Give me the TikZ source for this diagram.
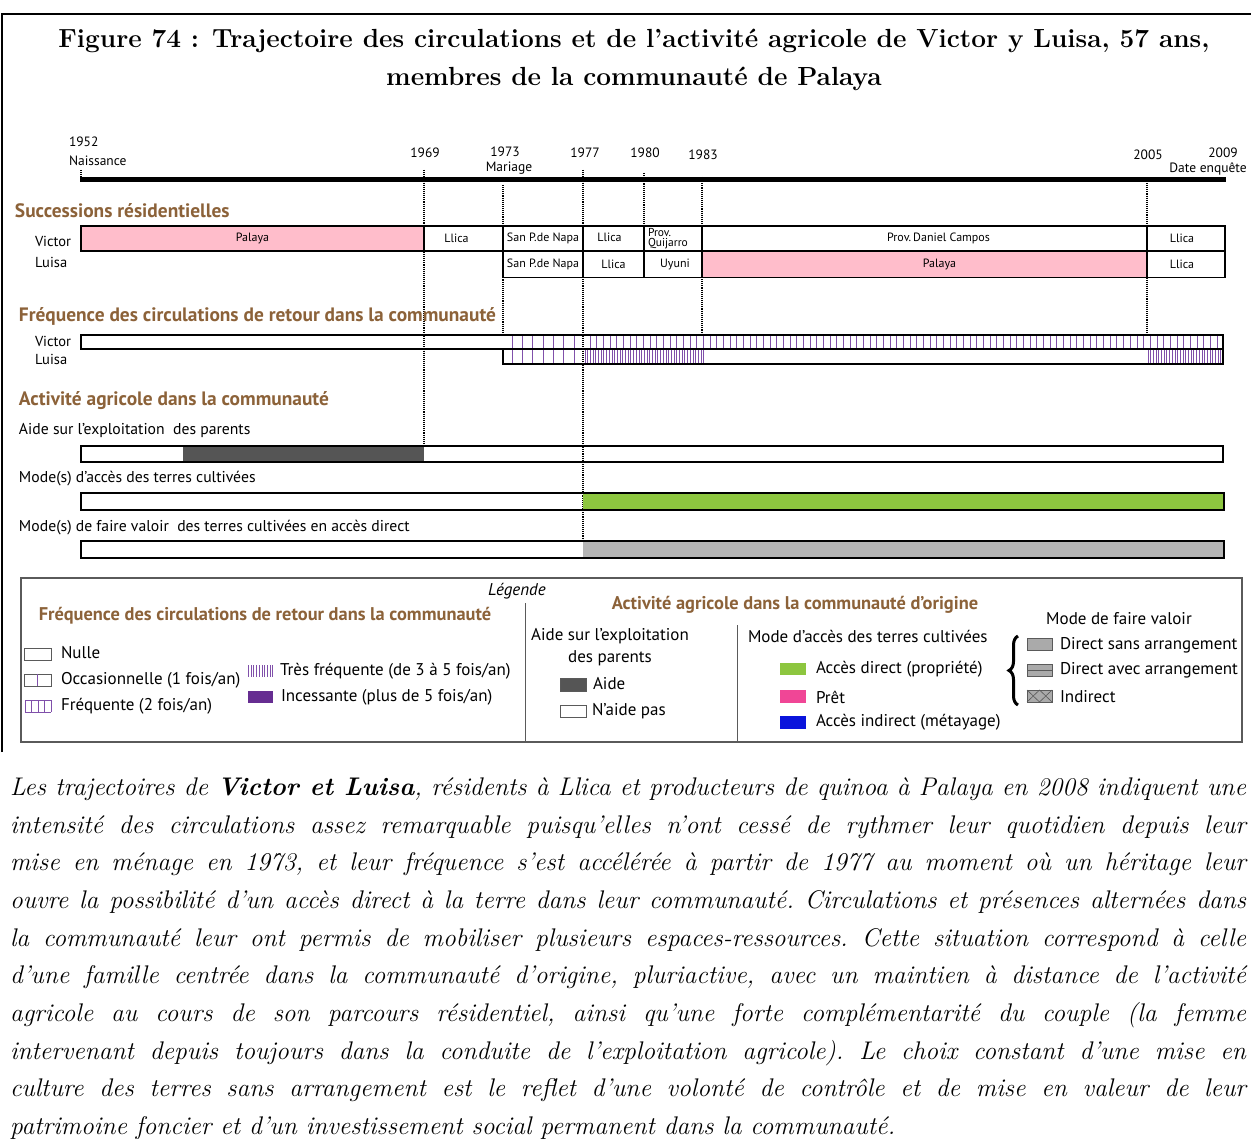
\documentclass[tikz,border=0pt]{standalone}
\usepackage{fontspec}
\setsansfont{PT Sans}
\usetikzlibrary{decorations.pathreplacing}
\definecolor{brun}{RGB}{140,98,57}
\definecolor{rose}{RGB}{255,189,203}
\definecolor{vert}{RGB}{141,198,63}
\definecolor{grisbar}{RGB}{180,180,180}
\definecolor{aidec}{RGB}{85,85,85}
\definecolor{pret}{RGB}{240,70,150}
\definecolor{bleu}{RGB}{10,20,220}
\definecolor{violet}{RGB}{128,80,170}
\definecolor{violetf}{RGB}{102,45,145}
\definecolor{grisleg}{RGB}{170,170,170}
\definecolor{cadre}{RGB}{90,90,90}
\tikzset{
  lab/.style={font=\sffamily\fontsize{14.5}{16}\selectfont, anchor=west},
  sub/.style={font=\sffamily\fontsize{15.7}{18}\selectfont, anchor=west},
  sect/.style={font=\sffamily\bfseries\fontsize{19.4}{22}\selectfont, text=brun, anchor=west},
  yr/.style={font=\sffamily\fontsize{13.5}{15}\selectfont},
  cell/.style={draw, line width=1.2pt, font=\sffamily\fontsize{12}{13}\selectfont, inner sep=0pt},
  leg/.style={font=\sffamily\fontsize{17}{19}\selectfont, anchor=west},
  legh/.style={font=\sffamily\bfseries\fontsize{18.4}{20}\selectfont, text=brun},
  bar/.style={draw, line width=1.8pt},
  dots/.style={densely dotted, line width=1.1pt},
  vl/.style={violet, line width=0.9pt},
  sw/.style={draw=cadre, line width=0.6pt}
}
\begin{document}
\begin{tikzpicture}[x=1pt,y=-1pt, every node/.style={inner sep=0pt, outer sep=0pt}]
\useasboundingbox (0,0) rectangle (1251,1139);
\fill[white] (0,0) rectangle (1251,1139);
% outer frame
\draw[line width=2pt] (2,752) -- (2,14) -- (1252,14);
% title
\node[font=\bfseries\fontsize{26.2}{38}\selectfont, align=center] (title) at (634,60)
  {Figure 74 : Trajectoire des circulations et de l’activité agricole de Victor y Luisa, 57 ans,\\ membres de la communauté de Palaya};
% timeline
\draw[line width=5pt] (80,180) coordinate (t0) -- (1226,180) coordinate (t1);
\node[yr, anchor=west] (y52) at (69,142) {1952};
\node[yr, anchor=west] (nais) at (69,161) {Naissance};
\node[yr] (y69) at (425,153) {1969};
\node[yr] (y73) at (505,152) {1973};
\node[yr] (mar) at (509,168) {Mariage};
\node[yr] (y77) at (585,153) {1977};
\node[yr] (y80) at (645,153) {1980};
\node[yr] (y83) at (703,155) {1983};
\node[yr] (y05) at (1148,155) {2005};
\node[yr] (y09) at (1223,153) {2009};
\node[yr] (enq) at (1208,169) {Date enquête};
% dotted lines
\draw[dots] (81,170) -- (81,177);
\draw[dots] (424,170) -- (424,446);
\draw[dots] (503,185) -- (503,335);
\draw[dots] (583,170) -- (583,541);
\draw[dots] (644,173) -- (644,226);
\draw[dots] (702,177) -- (702,226);
\draw[dots] (702,277) -- (702,335);
\draw[dots] (1147,183) -- (1147,335);
% residential
\node[sect] (succ) at (15,211) {Successions résidentielles};
\node[lab] (vic1) at (35,241) {Victor};
\node[lab] (lui1) at (35,262) {Luisa};
\node[cell, fill=rose, minimum width=343, minimum height=25] (v1) at (252.5,238.5) {Palaya};
\node[cell, minimum width=79, minimum height=25] (v2) at (463.5,238.5) {\hspace*{-14pt}Llica};
\node[cell, minimum width=80, minimum height=25] (v3) at (543,238.5) {San P.de Napa};
\node[cell, minimum width=61, minimum height=25] (v4) at (613.5,238.5) {\raisebox{2pt}{\hspace*{-8pt}Llica}};
\node[cell, minimum width=58, minimum height=25] (v5) at (673,238.5) {};
\node[font=\sffamily\fontsize{11.5}{10.5}\selectfont, align=left, anchor=west] (v5t) at (648,238.5) {Prov.\\Quijarro};
\node[cell, minimum width=445, minimum height=25] (v6) at (924.5,238.5) {\hspace*{28pt}Prov.\,Daniel Campos};
\node[cell, minimum width=78, minimum height=25] (v7) at (1186,238.5) {\hspace*{-8pt}Llica};
\node[cell, minimum width=80, minimum height=26] (l1) at (543,264.5) {San P.de Napa};
\node[cell, minimum width=61, minimum height=26] (l2) at (613.5,264.5) {\raisebox{-2pt}{Llica}};
\node[cell, minimum width=58, minimum height=26] (l3) at (673,264.5) {\hspace*{4pt}Uyuni};
\node[cell, fill=rose, minimum width=445, minimum height=26] (l4) at (924.5,264.5) {\hspace*{30pt}Palaya};
\node[cell, minimum width=78, minimum height=26] (l5) at (1186,264.5) {\hspace*{-8pt}Llica};
% frequency
\node[sect] (freq) at (19,316) {Fréquence des circulations de retour dans la communauté};
\node[lab] (vic2) at (35,341) {Victor};
\node[lab] (lui2) at (35,359) {Luisa};
\foreach \i in {0,...,6} {
  \draw[vl] ({512.3+10.3*\i},335) -- ++(0,14);
  \draw[vl] ({512.3+10.3*\i},349) -- ++(0,15);
}
\foreach \i in {0,...,94} \draw[vl] ({590+6.67*\i},335) -- ++(0,14);
\foreach \i in {0,...,44} \draw[vl] ({585+2.7*\i},349) -- ++(0,15);
\foreach \i in {0,...,27} \draw[vl] ({1148+2.7*\i},349) -- ++(0,15);
\node[bar, minimum width=1142, minimum height=14, anchor=north west] (fv) at (81,335) {};
\node[bar, minimum width=720, minimum height=15, anchor=north west] (fl) at (503,349) {};
% agriculture
\node[sect] (agri) at (19,401) {Activité agricole dans la communauté};
\node[sub] (aidelab) at (19,430) {Aide sur l’exploitation \ des parents};
\fill[aidec] (183,446) rectangle (424,462);
\node[bar, minimum width=1142, minimum height=16, anchor=north west] (aidebar) at (81,446) {};
\node[sub] (acclab) at (19,479) {Mode(s) d'accès des terres cultivées};
\fill[vert] (583,493) rectangle (1224,510);
\node[bar, minimum width=1143, minimum height=17, anchor=north west] (accbar) at (81,493) {};
\node[sub] (fvlab) at (19,528) {Mode(s) de faire valoir \ des terres cultivées en accès direct};
\fill[grisbar] (583,541) rectangle (1224,558);
\node[bar, minimum width=1143, minimum height=17, anchor=north west] (fvbar) at (81,541) {};
% legend
\draw[cadre, line width=1.4pt] (21,578) rectangle (1242,742);
\draw[cadre, line width=1pt] (525,603) -- (525,742);
\draw[cadre, line width=1pt] (737,625) -- (737,742);
\node[font=\sffamily\itshape\fontsize{17}{19}\selectfont] (legt) at (517,591) {Légende};
\node[legh] (legf) at (265,616) {Fréquence des circulations de retour dans la communauté};
\node[sw, minimum width=27, minimum height=12, anchor=north west] (sn) at (24,648) {};
\node[leg] (tn) at (61,653) {Nulle};
\node[sw, minimum width=27, minimum height=12, anchor=north west] (so) at (24,674) {};
\draw[vl] (37.5,674) -- (37.5,686);
\node[leg] (to) at (61,680) {Occasionnelle (1 fois/an)};
\foreach \i in {0,...,4} \draw[vl] ({25+6.5*\i},700) -- ++(0,12);
\draw[vl] (25,700) -- (51,700) (25,712) -- (51,712);
\node[leg] (tf) at (61,706) {Fréquente (2 fois/an)};
\foreach \i in {0,...,9} \draw[vl] ({248.5+2.7*\i},665) -- ++(0,12);
\node[leg] (ttf) at (280,671) {Très fréquente (de 3 à 5 fois/an)};
\fill[violetf] (248,691) rectangle (273,703);
\node[leg] (ti) at (281,697) {Incessante (plus de 5 fois/an)};
% aide legend
\node[font=\sffamily\fontsize{17}{22}\selectfont, align=center] (legaide) at (610,647) {Aide sur l'exploitation\\des parents};
\node[sw, fill=aidec, minimum width=26, minimum height=13, anchor=north west] (sa) at (560,678) {};
\node[leg] (ta) at (593,684) {Aide};
\node[sw, minimum width=26, minimum height=12, anchor=north west] (sna) at (560,705) {};
\node[leg] (tna) at (592,711) {N'aide pas};
% access legend
\node[legh] (lega) at (795,605) {Activité agricole dans la communauté d’origine};
\node[leg] (legm) at (748,636) {Mode d'accès des terres cultivées};
\fill[vert] (780,663) rectangle (806,675);
\node[leg] (tv) at (816,669) {Accès direct (propriété)};
\fill[pret] (780,690) rectangle (806,703);
\node[leg] (tp) at (816,697) {Prêt};
\fill[bleu] (780,716) rectangle (806,729);
\node[leg] (tb) at (816,722) {Accès indirect (métayage)};
% faire valoir legend
\node[font=\sffamily\fontsize{17}{19}\selectfont] (legv) at (1119,619) {Mode de faire valoir};
\draw[decorate, decoration={brace, amplitude=9pt}, line width=3pt] (1018,705) -- (1018,636);
\node[sw, fill=grisleg, minimum width=25, minimum height=12, anchor=north west] (s1) at (1027,638) {};
\node[leg] (t1) at (1060,645) {Direct sans arrangement};
\node[sw, fill=grisleg, minimum width=25, minimum height=12, anchor=north west] (s2) at (1027,664) {};
\draw[cadre, line width=0.6pt] (s2.west) -- (s2.east);
\node[leg] (t2) at (1060,670) {Direct avec arrangement};
\node[sw, fill=grisleg, minimum width=25, minimum height=12, anchor=north west] (s3) at (1027,690) {};
\draw[cadre, line width=0.6pt] (s3.north west) -- (s3.south) -- (s3.north east) (s3.south west) -- (s3.north) -- (s3.south east);
\node[leg] (t3) at (1060,697) {Indirect};
% paragraph
\node[anchor=north west, text width=1236pt, align=justify, font=\itshape\fontsize{25.5}{37.7}\selectfont] (para) at (10,769)
{\frenchspacing\strut Les trajectoires de \textbf{Victor et Luisa}, résidents à Llica et producteurs de quinoa à Palaya en 2008 indiquent une\linebreak
intensité des circulations assez remarquable puisqu’elles n’ont cessé de rythmer leur quotidien depuis leur\linebreak
mise en ménage en 1973, et leur fréquence s’est accélérée à partir de 1977 au moment où un héritage leur\linebreak
ouvre la possibilité d’un accès direct à la terre dans leur communauté. Circulations et présences alternées dans\linebreak
la communauté leur ont permis de mobiliser plusieurs espaces-ressources. Cette situation correspond à celle\linebreak
d’une famille centrée dans la communauté d’origine, pluriactive, avec un maintien à distance de l’activité\linebreak
agricole au cours de son parcours résidentiel, ainsi qu’une forte complémentarité du couple (la femme\linebreak
intervenant depuis toujours dans la conduite de l’exploitation agricole). Le choix constant d’une mise en\linebreak
culture des terres sans arrangement est le reflet d’une volonté de contrôle et de mise en valeur de leur\linebreak
patrimoine foncier et d’un investissement social permanent dans la communauté.};
\end{tikzpicture}
\end{document}
